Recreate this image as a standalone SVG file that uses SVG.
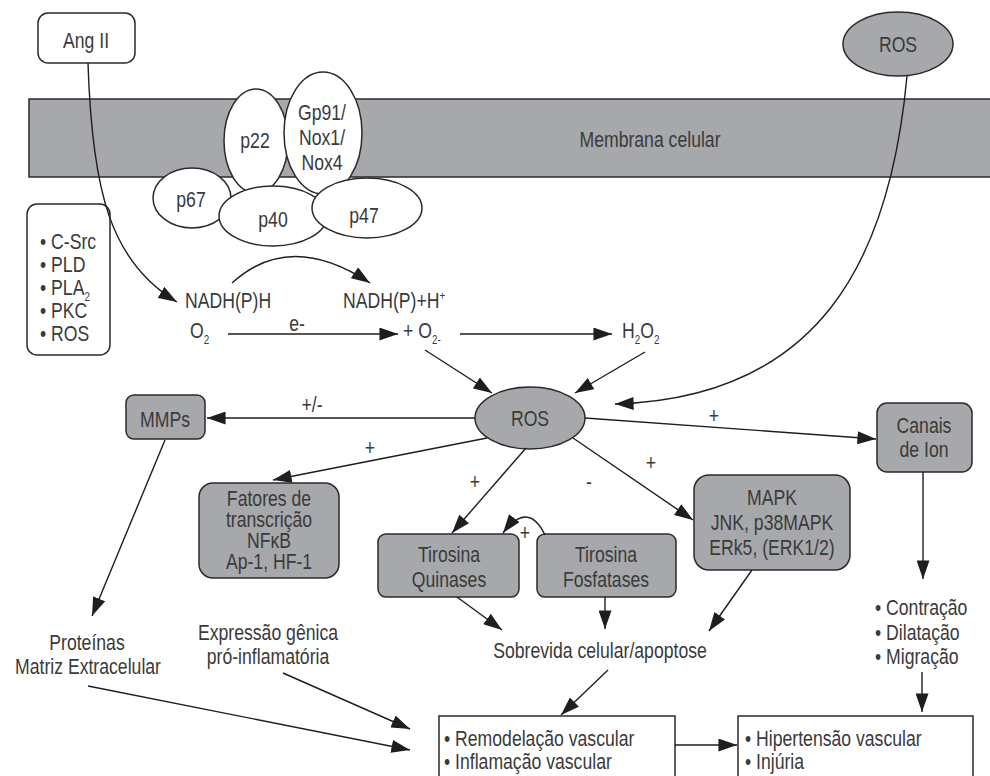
<svg xmlns="http://www.w3.org/2000/svg" width="990" height="776" viewBox="0 0 990 776">
<defs>
<marker id="ah" viewBox="0 0 20 14" refX="20" refY="7" markerWidth="19" markerHeight="13" orient="auto" markerUnits="userSpaceOnUse"><path d="M0,0 L20,7 L0,14 z" fill="#1e1e1e"/></marker>
<style>
text{font-family:'Liberation Sans',Arial,sans-serif;font-size:21.5px;fill:#3a3a3a}
.c{text-anchor:middle}
.g{fill:#a7a8ab;stroke:#2a2a2a;stroke-width:1.5}
.w{fill:#ffffff;stroke:#2a2a2a;stroke-width:1.5}
.ln{fill:none;stroke:#1e1e1e;stroke-width:1.4;marker-end:url(#ah)}
.sub{font-size:12px}
</style>
</defs>

<g id="membrana">
<rect class="g" x="29" y="99" width="975" height="78"/>
<text class="c" transform="translate(650,147) scale(0.82,1)">Membrana celular</text>
</g>

<g id="angii">
<rect class="w" x="38" y="13" width="97" height="50" rx="10"/>
<text class="c" transform="translate(86,48) scale(0.82,1)">Ang II</text>
</g>

<g id="ros-top">
<ellipse class="g" cx="898" cy="44" rx="55" ry="32"/>
<text class="c" transform="translate(898,52) scale(0.82,1)">ROS</text>
</g>

<g id="p67">
<ellipse class="w" cx="192" cy="198" rx="39" ry="30"/>
<text class="c" transform="translate(191,207) scale(0.82,1)">p67</text>
</g>
<g id="p22">
<ellipse class="w" cx="256" cy="141" rx="32" ry="52"/>
<text class="c" transform="translate(255,148) scale(0.82,1)">p22</text>
</g>
<g id="gp91">
<ellipse class="w" cx="323" cy="133" rx="39" ry="61"/>
<text class="c" transform="translate(322,120) scale(0.82,1)">Gp91/</text>
<text class="c" transform="translate(322,145) scale(0.82,1)">Nox1/</text>
<text class="c" transform="translate(322,170) scale(0.82,1)">Nox4</text>
</g>
<g id="p40">
<ellipse class="w" cx="273" cy="216" rx="54" ry="30"/>
<text class="c" transform="translate(273,227) scale(0.82,1)">p40</text>
</g>
<g id="p47">
<ellipse class="w" cx="367" cy="208" rx="55" ry="30"/>
<text class="c" transform="translate(364,223) scale(0.82,1)">p47</text>
</g>

<g id="lista-esq">
<rect class="w" x="27" y="204" width="83" height="151" rx="10"/>
<text transform="translate(40,249) scale(0.82,1)">• C-Src</text>
<text transform="translate(40,272) scale(0.82,1)">• PLD</text>
<text transform="translate(40,295) scale(0.82,1)">• PLA<tspan class="sub" dy="6">2</tspan></text>
<text transform="translate(40,318) scale(0.82,1)">• PKC</text>
<text transform="translate(40,341) scale(0.82,1)">• ROS</text>
</g>

<g id="reacao">
<text transform="translate(185,308) scale(0.82,1)">NADH(P)H</text>
<text transform="translate(343,308) scale(0.82,1)">NADH(P)+H<tspan class="sub" dy="-8">+</tspan></text>
<text transform="translate(190,338) scale(0.82,1)">O<tspan class="sub" dy="6">2</tspan></text>
<text class="c" transform="translate(297,331) scale(0.82,1)">e-</text>
<text transform="translate(403,338) scale(0.82,1)">+ O<tspan class="sub" dy="6">2-</tspan></text>
<text transform="translate(622,338) scale(0.82,1)">H<tspan class="sub" dy="6">2</tspan><tspan dy="-6">O</tspan><tspan class="sub" dy="6">2</tspan></text>
</g>

<g id="ros">
<ellipse class="g" cx="530" cy="418" rx="55" ry="31"/>
<text class="c" transform="translate(530,426) scale(0.82,1)">ROS</text>
</g>

<g id="mmps">
<rect class="g" x="126" y="395" width="79" height="44" rx="8"/>
<text class="c" transform="translate(165,427) scale(0.82,1)">MMPs</text>
</g>

<g id="fatores">
<rect class="g" x="199" y="483" width="140" height="95" rx="14"/>
<text class="c" transform="translate(269,506) scale(0.82,1)">Fatores de</text>
<text class="c" transform="translate(269,527) scale(0.82,1)">transcrição</text>
<text class="c" transform="translate(269,548) scale(0.82,1)">NFκB</text>
<text class="c" transform="translate(269,569) scale(0.82,1)">Ap-1, HF-1</text>
</g>

<g id="quinases">
<rect class="g" x="378" y="534" width="141" height="63" rx="8"/>
<text class="c" transform="translate(449,562) scale(0.82,1)">Tirosina</text>
<text class="c" transform="translate(449,587) scale(0.82,1)">Quinases</text>
</g>

<g id="fosfatases">
<rect class="g" x="537" y="534" width="139" height="63" rx="8"/>
<text class="c" transform="translate(606,562) scale(0.82,1)">Tirosina</text>
<text class="c" transform="translate(606,587) scale(0.82,1)">Fosfatases</text>
</g>

<g id="mapk">
<rect class="g" x="694" y="475" width="156" height="95" rx="15"/>
<text class="c" transform="translate(772,505) scale(0.82,1)">MAPK</text>
<text class="c" transform="translate(772,530) scale(0.82,1)">JNK, p38MAPK</text>
<text class="c" transform="translate(772,555) scale(0.82,1)">ERk5, (ERK1/2)</text>
</g>

<g id="canais">
<rect class="g" x="877" y="403" width="95" height="69" rx="10"/>
<text class="c" transform="translate(924,433) scale(0.82,1)">Canais</text>
<text class="c" transform="translate(924,457) scale(0.82,1)">de Ion</text>
</g>

<g id="lista-dir">
<text transform="translate(875,615) scale(0.82,1)">• Contração</text>
<text transform="translate(875,640) scale(0.82,1)">• Dilatação</text>
<text transform="translate(875,664) scale(0.82,1)">• Migração</text>
</g>

<g id="proteinas">
<text class="c" transform="translate(87,650) scale(0.82,1)">Proteínas</text>
<text class="c" transform="translate(88,674) scale(0.82,1)">Matriz Extracelular</text>
</g>

<g id="expressao">
<text class="c" transform="translate(268,640) scale(0.82,1)">Expressão gênica</text>
<text class="c" transform="translate(268,664) scale(0.82,1)">pró-inflamatória</text>
</g>

<g id="sobrevida">
<text class="c" transform="translate(600,658) scale(0.82,1)">Sobrevida celular/apoptose</text>
</g>

<g id="remodelacao">
<rect class="w" x="439" y="716" width="236" height="80"/>
<text transform="translate(444,746) scale(0.82,1)">• Remodelação vascular</text>
<text transform="translate(444,769) scale(0.82,1)">• Inflamação vascular</text>
</g>

<g id="hipertensao">
<rect class="w" x="738" y="716" width="235" height="80"/>
<text transform="translate(745,746) scale(0.82,1)">• Hipertensão vascular</text>
<text transform="translate(745,769) scale(0.82,1)">• Injúria</text>
</g>

<g id="conectores">
<path class="ln" d="M88,63 C92,190 110,262 177,302"/>
<path class="ln" d="M232,283 Q290,230 370,283"/>
<path class="ln" d="M228,334 L398,334"/>
<path class="ln" d="M460,334 L612,334"/>
<path class="ln" d="M425,350 L492,393"/>
<path class="ln" d="M645,352 L575,393"/>
<path class="ln" d="M907,76 C890,260 820,398 615,404"/>
<path class="ln" d="M475,418 L207,418"/>
<path class="ln" d="M487,438 L273,480"/>
<path class="ln" d="M526,448 L452,533"/>
<path class="ln" d="M545,535 Q528,500 503,533"/>
<path class="ln" d="M573,438 L693,520"/>
<path class="ln" d="M585,418 L876,439"/>
<path class="ln" d="M923,472 L923,579"/>
<path class="ln" d="M922,672 L922,712"/>
<path class="ln" d="M165,440 L92,616"/>
<path class="ln" d="M457,597 L502,630"/>
<path class="ln" d="M605,597 L605,629"/>
<path class="ln" d="M752,570 L709,631"/>
<path class="ln" d="M608,670 L561,715"/>
<path class="ln" d="M283,673 L410,729"/>
<path class="ln" d="M88,686 L410,750"/>
<path class="ln" d="M675,745 L737,745"/>
<text class="c" transform="translate(312,412) scale(0.82,1)">+/-</text>
<text class="c" transform="translate(370,455) scale(0.82,1)">+</text>
<text class="c" transform="translate(475,489) scale(0.82,1)">+</text>
<text class="c" transform="translate(525,540) scale(0.82,1)">+</text>
<text class="c" transform="translate(589,489) scale(0.82,1)">-</text>
<text class="c" transform="translate(651,470) scale(0.82,1)">+</text>
<text class="c" transform="translate(714,423) scale(0.82,1)">+</text>
</g>
</svg>
